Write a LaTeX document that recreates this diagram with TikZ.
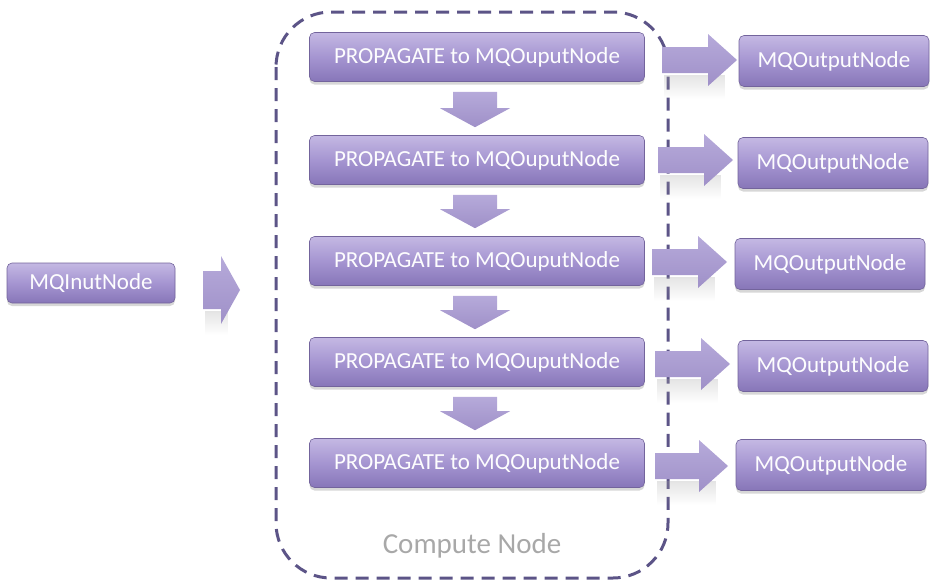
\documentclass[tikz,border=0pt]{standalone}
\usepackage{fontspec}
\setmainfont{Carlito}
\usetikzlibrary{shadows,fadings,calc}

\definecolor{boxtop}{HTML}{C4B8E3}
\definecolor{boxmid}{HTML}{A595D1}
\definecolor{boxbot}{HTML}{8776B8}
\definecolor{arrowtop}{HTML}{B6AADA}
\definecolor{arrowbot}{HTML}{9F90C8}
\definecolor{framecol}{HTML}{5C5487}
\definecolor{labelgrey}{HTML}{A8A8A8}

\tikzset{
  glossbox/.style={rectangle, rounded corners=5pt,
    top color=boxtop, bottom color=boxbot, middle color=boxmid,
    draw=boxbot!85!black, line width=0.6pt, text=white!97!boxtop,
    font=\fontsize{23}{26}\selectfont, inner sep=0pt, minimum height=49pt,
    drop shadow={shadow xshift=0pt, shadow yshift=-3pt, opacity=0.35, fill=black!45}},
  propbox/.style={glossbox, minimum width=335pt},
  outbox/.style={glossbox, minimum width=190pt, minimum height=51pt},
  inbox/.style={glossbox, minimum width=168pt, minimum height=40pt},
  blockfill/.style={top color=arrowtop, bottom color=arrowbot},
  reflect/.style={fill=black!35, opacity=0.3, path fading=south},
  frame/.style={draw=framecol, line width=3pt, dash pattern=on 13pt off 8pt,
    rounded corners=55pt},
  framelabel/.style={text=labelgrey, font=\fontsize{29}{32}\selectfont},
}

% block arrow pointing right: shaft half-height, head half-height, head length, start, tip
\newcommand{\blockR}[5]{%
  \path[reflect] let \p1=(#4), \p2=(#5) in
    (\x1+2pt,\y1-#1-2pt) rectangle (\x2-12pt,\y1-#1-26pt);
  \path[blockfill] let \p1=(#4), \p2=(#5) in
    (\x1,\y1-#1) -- (\x2-#3,\y1-#1) -- (\x2-#3,\y1-#2) -- (\x2,\y1)
    -- (\x2-#3,\y1+#2) -- (\x2-#3,\y1+#1) -- (\x1,\y1+#1) -- cycle;}

% block arrow pointing down, from top of shaft to tip
\newcommand{\blockD}[2]{%
  \path[blockfill] let \p1=(#1), \p2=(#2) in
    (\x1-22pt,\y1) -- (\x1+22pt,\y1) -- (\x1+22pt,\y2+19pt) -- (\x1+35pt,\y2+19pt)
    -- (\x1,\y2) -- (\x1-35pt,\y2+19pt) -- (\x1-22pt,\y2+19pt) -- cycle;}

\begin{document}
\begin{tikzpicture}[x=1pt,y=-1pt]
\useasboundingbox (0,0) rectangle (931,581);

% compute node frame
\draw[frame] (276,12) rectangle (668,578);
\node[framelabel] (cn) at (472,546) {Compute Node};

% input node
\node[inbox] (in) at (91,283) {MQInutNode};
\coordinate (ins) at (203,290);
\coordinate (ine) at (240,290);
\blockR{19pt}{34pt}{19pt}{ins}{ine}

% propagate steps
\node[propbox] (p1) at (477,57)  {PROPAGATE to MQOuputNode};
\node[propbox] (p2) at (477,160) {PROPAGATE to MQOuputNode};
\node[propbox] (p3) at (477,261) {PROPAGATE to MQOuputNode};
\node[propbox] (p4) at (477,362) {PROPAGATE to MQOuputNode};
\node[propbox] (p5) at (477,463) {PROPAGATE to MQOuputNode};

% downward flow between steps
\foreach \a/\b in {p1/p2,p2/p3,p3/p4,p4/p5}{
  \blockD{$(\a.south)+(-2,10)$}{$(\b.north)+(-2,-8)$}
}

% output nodes
\node[outbox] (o1) at (834,61)  {MQOutputNode};
\node[outbox] (o2) at (833,163) {MQOutputNode};
\node[outbox] (o3) at (830,264) {MQOutputNode};
\node[outbox] (o4) at (833,366) {MQOutputNode};
\node[outbox] (o5) at (831,465) {MQOutputNode};

% arrows from steps to outputs
\coordinate (r1s) at (662,60);  \coordinate (r1e) at (737,60);
\coordinate (r2s) at (658,160); \coordinate (r2e) at (733,160);
\coordinate (r3s) at (652,262); \coordinate (r3e) at (727,262);
\coordinate (r4s) at (655,364); \coordinate (r4e) at (730,364);
\coordinate (r5s) at (655,466); \coordinate (r5e) at (728,466);
\foreach \i in {1,...,5}{
  \blockR{13pt}{26pt}{29pt}{r\i s}{r\i e}
}
\end{tikzpicture}
\end{document}
